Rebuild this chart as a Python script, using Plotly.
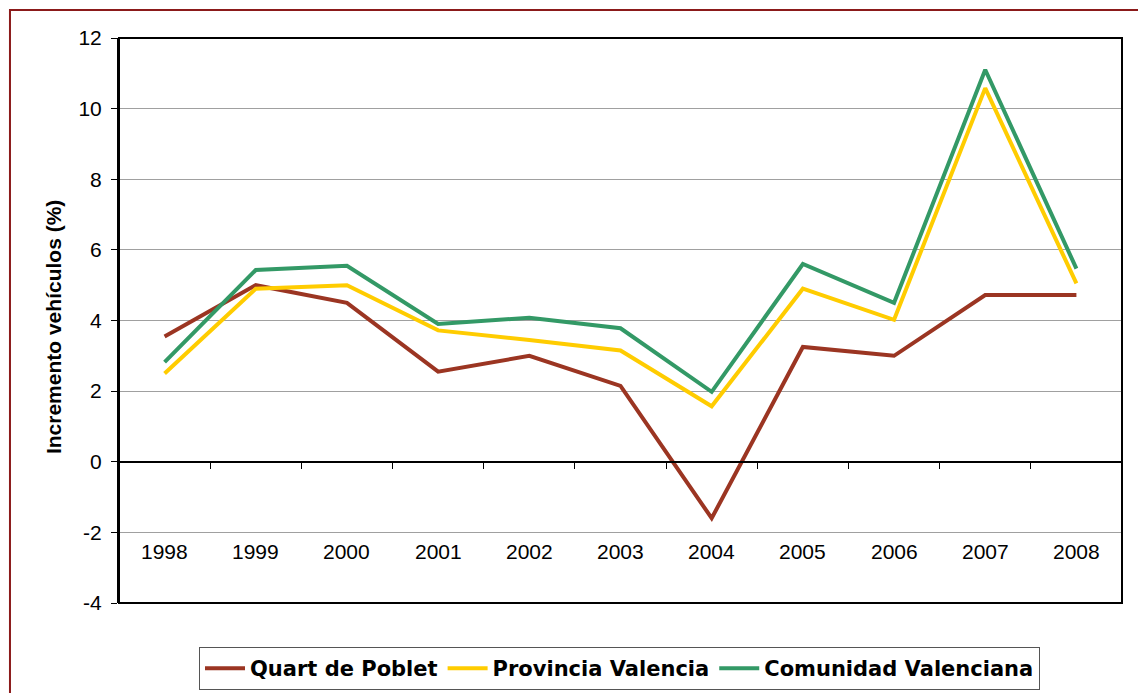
import plotly.graph_objects as go

years = ["1998", "1999", "2000", "2001", "2002", "2003", "2004", "2005", "2006", "2007", "2008"]
quart = [3.55, 5.0, 4.5, 2.55, 3.0, 2.15, -1.6, 3.25, 3.0, 4.72, 4.72]
provincia = [2.5, 4.9, 5.0, 3.72, 3.45, 3.15, 1.57, 4.9, 4.02, 10.58, 5.05]
comunidad = [2.82, 5.43, 5.55, 3.9, 4.08, 3.78, 1.98, 5.6, 4.5, 11.1, 5.47]
y_ticks = [-4, -2, 0, 2, 4, 6, 8, 10, 12]
y_tick_text = ["-4", "-2", "0", "2", "4", "6", "8", "10", "12"]

series = [
    ("Quart de Poblet", quart, "#9B3522"),
    ("Provincia Valencia", provincia, "#FFCC00"),
    ("Comunidad Valenciana", comunidad, "#339966"),
]

FONT = "Arial, Liberation Sans, sans-serif"
LEGEND_FONT = "DejaVu Sans, Arial, sans-serif"
idx = list(range(len(years)))

fig = go.Figure()
for name, vals, color in series:
    fig.add_trace(go.Scatter(
        x=idx, y=vals, mode="lines", name=name,
        line=dict(color=color, width=4),
    ))

# category labels sit inside the plot, below the -2 gridline
for i, label in enumerate(years):
    fig.add_annotation(
        x=i, y=-2.54, xref="x", yref="y", text=label, showarrow=False,
        font=dict(family=FONT, size=21, color="#000000"),
        xanchor="center", yanchor="middle",
    )

# axis title
fig.add_annotation(
    x=-0.066, y=0.488, xref="paper", yref="paper",
    text="<b>Incremento vehículos (%)</b>", textangle=-90, showarrow=False,
    font=dict(family=FONT, size=21, color="#000000"),
    xanchor="center", yanchor="middle",
)

fig.update_layout(
    width=1138, height=693,
    margin=dict(l=119, r=16, t=38, b=90, autoexpand=False),
    paper_bgcolor="white", plot_bgcolor="white",
    font=dict(family=FONT, color="#000000"),
    showlegend=True,
    legend=dict(
        orientation="h", xref="container", yref="container",
        x=199 / 1138, y=1 - 647 / 693, xanchor="left", yanchor="top",
        font=dict(family=LEGEND_FONT, size=21, color="#000000", weight="bold"),
        bordercolor="#555555", borderwidth=1, bgcolor="white",
        tracegroupgap=0, itemwidth=40,
    ),
    xaxis=dict(
        range=[-0.5, len(years) - 0.5],
        anchor="free", position=0.25,
        tickmode="array", tickvals=[i + 0.5 for i in idx[:-1]],
        showticklabels=False, ticks="outside", ticklen=6, tickcolor="#000000",
        showline=True, linecolor="#000000", linewidth=1.5,
        showgrid=False, zeroline=False,
    ),
    yaxis=dict(
        range=[-4, 12], tickmode="array", tickvals=y_ticks, ticktext=y_tick_text,
        ticks="outside", ticklen=6, tickcolor="#000000",
        tickfont=dict(family=FONT, size=21, color="#000000"),
        ticklabelstandoff=5,
        showgrid=True, gridcolor="#A0A0A0", gridwidth=1,
        zeroline=False, showline=True, linecolor="#000000", linewidth=2,
    ),
    shapes=[
        # plot frame
        dict(type="rect", xref="paper", yref="paper", x0=0, y0=0, x1=1, y1=1,
             line=dict(color="#000000", width=2), layer="above"),
        # outer chart border
        dict(type="rect", xref="paper", yref="paper",
             x0=-0.1087, y0=-0.3, x1=1.1, y1=1.0496,
             line=dict(color="#8B1A1A", width=2)),
    ],
)

fig.write_html("out.html")
